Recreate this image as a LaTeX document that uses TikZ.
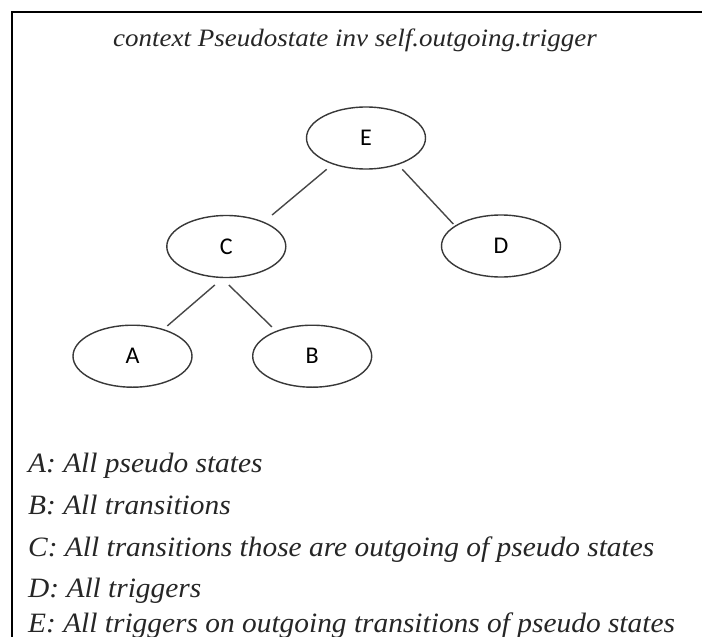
\documentclass[tikz,border=0pt]{standalone}
\usepackage{fontspec}
\setmainfont{Liberation Serif}
\newfontfamily\labelfont{Carlito}
\newfontfamily\exprfont{Liberation Serif}[FakeStretch=1.08]
\newfontfamily\legendfont{Liberation Serif}[FakeStretch=1.05]
\usetikzlibrary{shapes.geometric}
\begin{document}
\begin{tikzpicture}[x=1pt,y=-1pt,
  setnode/.style={ellipse, draw=black!78, line width=1.4pt,
    minimum width=119pt, minimum height=62pt, inner sep=0pt,
    font=\labelfont\fontsize{24}{24}\selectfont},
  link/.style={draw=black!72, line width=1.4pt},
  frameline/.style={draw=black, line width=2pt},
  legend/.style={anchor=base west, inner sep=0pt, text=black!85,
    font=\legendfont\itshape\fontsize{28}{28}\selectfont}]
\useasboundingbox (0,0) rectangle (702,637);
\fill[white] (0,0) rectangle (702,637);

% open frame: top and left edges only
\coordinate (frameTR) at (702,12);
\coordinate (frameTL) at (12,12);
\coordinate (frameBL) at (12,637);
\draw[frameline] (frameTR) -- (frameTL) -- (frameBL);

% expression
\node[anchor=base, inner sep=0pt, text=black!85,
  font=\exprfont\itshape\fontsize{25}{25}\selectfont]
  (title) at (355,46) {context Pseudostate inv self.outgoing.trigger};

% set tree
\node[setnode] (E) at (366,138) {E};
\node[setnode] (C) at (226.3,246.5) {C};
\node[setnode] (D) at (501,246) {D};
\node[setnode] (A) at (132.5,356.2) {A};
\node[setnode] (B) at (312.2,356.2) {B};

\draw[link] ([shift={(-39.3,31.3)}]E.center) -- ([shift={(45.8,-31.5)}]C.center);
\draw[link] ([shift={(36.3,31.3)}]E.center) -- ([shift={(-47.7,-22)}]D.center);
\draw[link] ([shift={(-11.5,38.5)}]C.center) -- ([shift={(34.8,-30.3)}]A.center);
\draw[link] ([shift={(2.5,38.5)}]C.center) -- ([shift={(-40.3,-29.3)}]B.center);

% legend
\node[legend] (la) at (28,472) {A: All pseudo states};
\node[legend] (lb) at (28,514) {B: All transitions};
\node[legend] (lc) at (28,556) {C: All transitions those are outgoing of pseudo states};
\node[legend] (ld) at (28,597) {D: All triggers};
\node[legend] (le) at (28,632) {E: All triggers on outgoing transitions of pseudo states};
\end{tikzpicture}
\end{document}
